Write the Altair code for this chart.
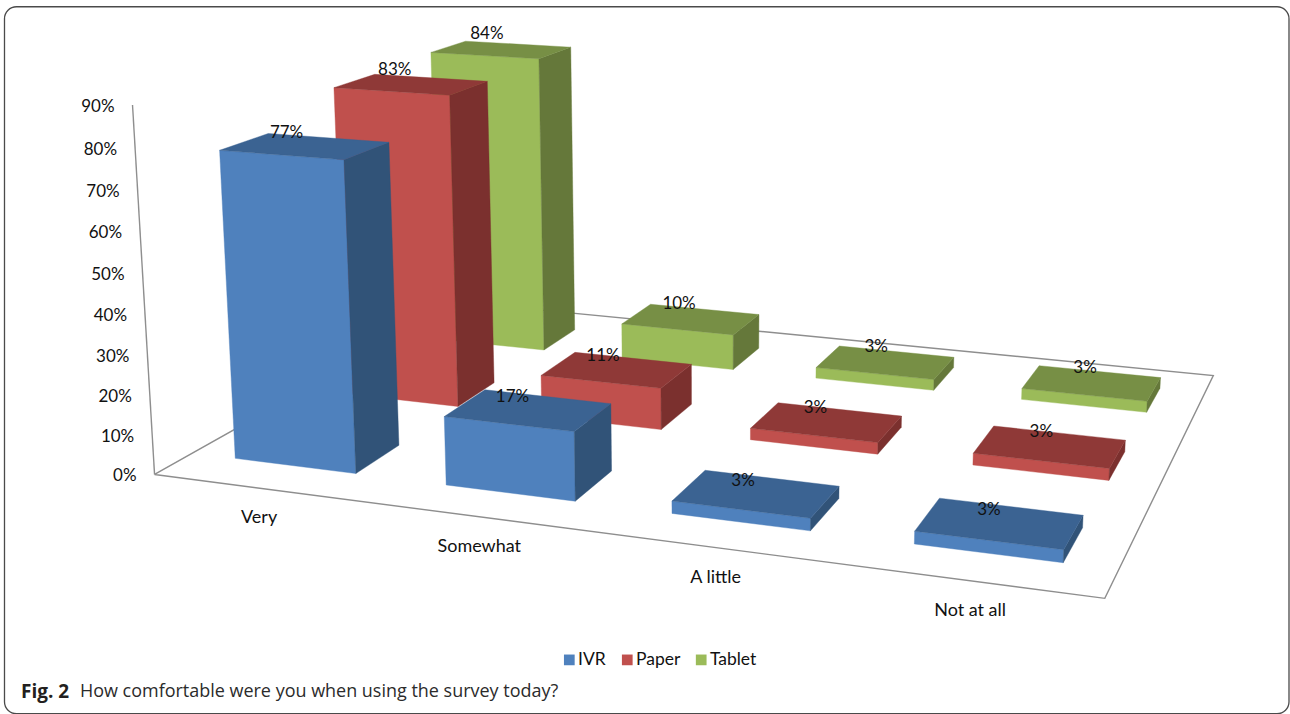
import numpy as np
import pandas as pd
import altair as alt

categories = ["Very", "Somewhat", "A little", "Not at all"]
series = ["IVR", "Paper", "Tablet"]
ivr_values = [77, 17, 3, 3]
paper_values = [83, 11, 3, 3]
tablet_values = [84, 10, 3, 3]
axis_ticks = [0, 10, 20, 30, 40, 50, 60, 70, 80, 90]

front_colors = ["#4F81BD", "#C0504D", "#9BBB59"]
top_colors = ["#3B6392", "#8F3937", "#778F45"]
side_colors = ["#315378", "#7B302E", "#65783A"]

W, H = 1290, 714
LABEL_FONT = "Lato"
CAPTION_FONT = "Open Sans"

# Pinhole camera: world is (category, series depth, percent), screen is pixels.
CAMERA = np.array([
    [200.504, 145.44, -0.301667, 154.676],
    [10.8344, -29.0402, -4.15255, 474.555],
    [-0.0336806, 0.0939829, -0.000427332, 1.0],
])
BAR_GAP_X = 0.21  # margin on each side of a bar, in category units
BAR_GAP_Y = 0.30  # margin in front of and behind a bar, in series units


def project(x, y, z):
    h = CAMERA @ np.array([x, y, z, 1.0])
    return [float(h[0] / h[2]), float(h[1] / h[2])]


def polygon(key, corners):
    ring = [project(*c) for c in corners]
    ring.append(ring[0])
    return {
        "type": "Feature",
        "properties": {"key": key},
        "geometry": {"type": "Polygon", "coordinates": [ring]},
    }


def polyline(corners):
    return {
        "type": "Feature",
        "properties": {},
        "geometry": {"type": "LineString", "coordinates": [project(*c) for c in corners]},
    }


table = [ivr_values, paper_values, tablet_values]

# Faces painted from the back row to the front row.
faces = []
for j in reversed(range(len(series))):
    for i in range(len(categories)):
        v = table[j][i]
        x0, x1 = i + BAR_GAP_X, i + 1 - BAR_GAP_X
        y0, y1 = j + BAR_GAP_Y, j + 1 - BAR_GAP_Y
        name = series[j]
        faces.append(polygon(name, [(x0, y0, 0), (x1, y0, 0), (x1, y0, v), (x0, y0, v)]))
        faces.append(polygon(name + " side", [(x1, y0, 0), (x1, y1, 0), (x1, y1, v), (x1, y0, v)]))
        faces.append(polygon(name + " top", [(x0, y0, v), (x1, y0, v), (x1, y1, v), (x0, y1, v)]))

color_domain = series + [s + " top" for s in series] + [s + " side" for s in series]
color_range = front_colors + top_colors + side_colors
face_scale = alt.Scale(domain=color_domain, range=color_range)

n_cat, n_ser = len(categories), len(series)
floor = [
    polyline([(0, 0, 0), (n_cat, 0, 0), (n_cat, n_ser, 0), (0, n_ser, 0), (0, 0, 0)]),
    polyline([(0, 0, 0), (0, 0, axis_ticks[-1])]),
]

floor_layer = (
    alt.Chart(alt.Data(values=floor))
    .mark_geoshape(filled=False, stroke="#8e8e8e", strokeWidth=1.4)
    .project(type="identity", scale=1, translate=[0, 0])
)

bars_layer = (
    alt.Chart(alt.Data(values=faces))
    .mark_geoshape(strokeWidth=0.4)
    .encode(
        color=alt.Color(
            "properties.key:N",
            scale=face_scale,
            legend=alt.Legend(
                values=series,
                orient="none",
                legendX=561,
                legendY=651,
                direction="horizontal",
                title=None,
                symbolType="square",
                symbolSize=115,
                symbolStrokeWidth=0,
                labelFont=LABEL_FONT,
                labelFontSize=17.5,
                labelColor="#111111",
                labelOffset=0,
                columnPadding=12,
            ),
        ),
        stroke=alt.Stroke("properties.key:N", scale=face_scale, legend=None),
    )
    .project(type="identity", scale=1, translate=[0, 0])
)

# Value labels sit above the middle of each bar's top face.
value_rows = []
for j, name in enumerate(series):
    for i in range(n_cat):
        v = table[j][i]
        px, py = project(i + 0.5, j + 0.5, v)
        value_rows.append({"px": px - 18.5 + 2.6 * i + 2 * j, "py": py - 13 - 1.2 * j, "label": f"{v}%"})

tick_rows = []
for t in axis_ticks:
    px, py = project(0, 0, t)
    tick_rows.append({"px": px - 18, "py": py + 2, "label": f"{t}%"})

cat_rows = []
for i, c in enumerate(categories):
    px, py = project(i + 0.5, 0, 0)
    cat_rows.append({"px": px, "py": py + 30, "label": c})


def text_layer(rows, align, size):
    return (
        alt.Chart(pd.DataFrame(rows))
        .mark_text(font=LABEL_FONT, fontSize=size, color="#111111", align=align, baseline="middle")
        .encode(
            x=alt.X("px:Q", scale=None, axis=None),
            y=alt.Y("py:Q", scale=None, axis=None),
            text="label:N",
        )
    )


caption_bold = (
    alt.Chart(pd.DataFrame({"px": [21], "py": [692], "label": ["Fig. 2"]}))
    .mark_text(font=CAPTION_FONT, fontSize=19, fontWeight="bold", color="#231F20", align="left", baseline="middle")
    .encode(x=alt.X("px:Q", scale=None, axis=None), y=alt.Y("py:Q", scale=None, axis=None), text="label:N")
)
caption_text = (
    alt.Chart(pd.DataFrame({"px": [80], "py": [692], "label": ["How comfortable were you when using the survey today?"]}))
    .mark_text(font=CAPTION_FONT, fontSize=18, color="#2b2b2b", align="left", baseline="middle")
    .encode(x=alt.X("px:Q", scale=None, axis=None), y=alt.Y("py:Q", scale=None, axis=None), text="label:N")
)

frame = (
    alt.Chart(pd.DataFrame({"k": [0]}))
    .mark_rect(filled=False, stroke="#4a4a4a", strokeWidth=1.3, cornerRadius=12)
    .encode(x=alt.value(4.5), x2=alt.value(1290), y=alt.value(6.5), y2=alt.value(714))
)

chart = (
    alt.layer(
        frame,
        floor_layer,
        bars_layer,
        text_layer(tick_rows, "right", 17),
        text_layer(cat_rows, "center", 18),
        text_layer(value_rows, "center", 17),
        caption_bold,
        caption_text,
    )
    .properties(width=W, height=H, padding=0, background="white")
    .configure_view(stroke=None)
)

chart.save("out.html", embed_options={"renderer": "svg", "actions": False})
